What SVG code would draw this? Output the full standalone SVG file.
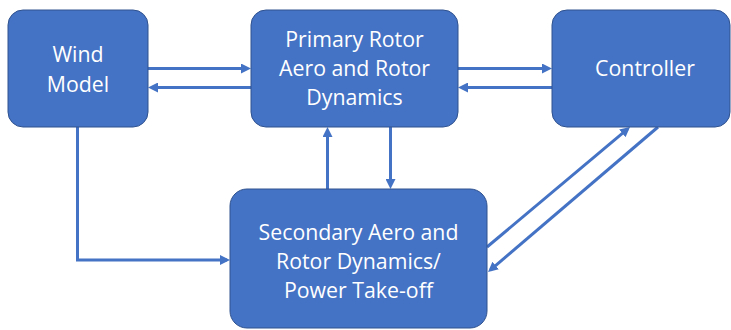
<svg xmlns="http://www.w3.org/2000/svg" width="731" height="330" viewBox="0 0 731 330">
  <style>
    .box { fill: #4472C4; stroke: #2F528F; stroke-width: 1; }
    .label { fill: #FFFFFF; font-family: "Open Sans", "Liberation Sans", sans-serif; font-size: 21.3px; text-anchor: middle; }
    .link { fill: none; stroke: #4472C4; stroke-width: 3; marker-end: url(#head); }
  </style>
  <defs>
    <marker id="head" markerUnits="userSpaceOnUse" markerWidth="10" markerHeight="10" refX="7" refY="5" orient="auto">
      <path d="M0,0 L10,5 L0,10 z" fill="#4472C4"/>
    </marker>
  </defs>
  <rect width="731" height="330" fill="#FFFFFF"/>

  <g id="connectors">
    <!-- Wind Model <-> Primary Rotor -->
    <line class="link" x1="148" y1="68.5" x2="248" y2="68.5"/>
    <line class="link" x1="251" y1="87.5" x2="151" y2="87.5"/>
    <!-- Primary Rotor <-> Controller -->
    <line class="link" x1="458" y1="68.5" x2="549" y2="68.5"/>
    <line class="link" x1="552" y1="87.5" x2="461" y2="87.5"/>
    <!-- Wind Model -> Secondary -->
    <polyline class="link" points="77.5,127 77.5,260 227,260"/>
    <!-- Secondary <-> Primary Rotor -->
    <line class="link" x1="327.5" y1="189" x2="327.5" y2="130"/>
    <line class="link" x1="390.5" y1="127" x2="390.5" y2="186"/>
    <!-- Secondary <-> Controller -->
    <line class="link" x1="487" y1="247" x2="627.7" y2="128.9"/>
    <line class="link" x1="658" y1="127" x2="490.3" y2="270.1"/>
  </g>

  <g id="wind-model">
    <rect class="box" x="8" y="10" width="140" height="117" rx="15"/>
    <text class="label" x="78" y="62">Wind</text>
    <text class="label" x="78" y="92">Model</text>
  </g>

  <g id="primary-rotor">
    <rect class="box" x="251" y="10" width="207" height="117" rx="15"/>
    <text class="label" x="354.5" y="47">Primary Rotor</text>
    <text class="label" x="354.5" y="76">Aero and Rotor</text>
    <text class="label" x="354.5" y="104.5">Dynamics</text>
  </g>

  <g id="controller">
    <rect class="box" x="552" y="10" width="178" height="117" rx="15"/>
    <text class="label" x="645" y="76">Controller</text>
  </g>

  <g id="secondary">
    <rect class="box" x="230" y="189" width="257" height="139" rx="17"/>
    <text class="label" x="358.5" y="239.5">Secondary Aero and</text>
    <text class="label" x="358.5" y="268.5">Rotor Dynamics/</text>
    <text class="label" x="358.5" y="298">Power Take-off</text>
  </g>
</svg>
